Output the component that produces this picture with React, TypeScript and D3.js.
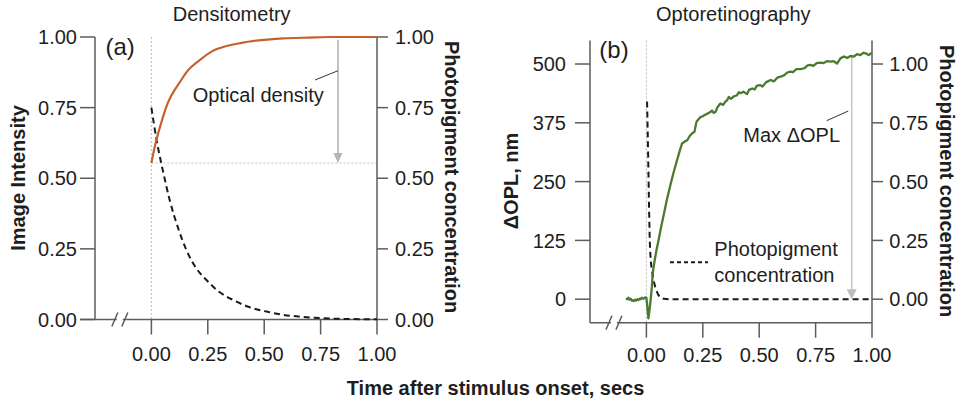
import React from 'react';
import * as d3 from 'd3';

// ---------- data ----------
const xTickValues = [0, 0.25, 0.5, 0.75, 1.0];
const xTickLabels = ['0.00', '0.25', '0.50', '0.75', '1.00'];
const unitTickValues = [0, 0.25, 0.5, 0.75, 1.0];
const unitTickLabels = ['0.00', '0.25', '0.50', '0.75', '1.00'];
const oplTickValues = [0, 125, 250, 375, 500];
const oplTickLabels = ['0', '125', '250', '375', '500'];

// Panel (a): optical density (image intensity) vs time
const opticalDensity: [number, number][] = [
  [0, 0.554], [0.011, 0.597], [0.022, 0.635], [0.045, 0.7], [0.066, 0.753], [0.09, 0.795],
  [0.126, 0.84], [0.16, 0.88], [0.214, 0.918], [0.27, 0.95], [0.333, 0.968], [0.4, 0.979],
  [0.436, 0.984], [0.5, 0.99], [0.583, 0.995], [0.7, 0.998], [0.8, 1.0], [0.9, 1.0], [1.0, 1.0],
];
// Panel (a): photopigment concentration
const pigmentA: [number, number][] = [
  [0, 0.75], [0.023, 0.635], [0.05, 0.53], [0.081, 0.423], [0.12, 0.32], [0.155, 0.246],
  [0.2, 0.18], [0.244, 0.14], [0.3, 0.098], [0.362, 0.069], [0.43, 0.045], [0.51, 0.028],
  [0.58, 0.017], [0.658, 0.01], [0.75, 0.005], [0.85, 0.002], [1.0, 0.001],
];
const odBaseline = 0.554;
const odArrowT = 0.827;
const odArrowTop = 0.99;

// Panel (b): ΔOPL (nm)
const orgOpl: [number, number][] = [
  [-0.09, 2], [-0.085, 0], [-0.08, 3], [-0.075, -1], [-0.07, 1], [-0.065, -3], [-0.06, -2],
  [-0.055, -4], [-0.05, -1], [-0.045, -3], [-0.04, 0], [-0.035, -2], [-0.03, 1], [-0.025, 0],
  [-0.02, 3], [-0.015, 1], [-0.01, 2], [-0.005, 4], [0, 3], [0.003, -10], [0.006, -28],
  [0.009, -41], [0.012, -30], [0.018, -5], [0.024, 25], [0.028, 55], [0.035, 78], [0.045, 105],
  [0.055, 128], [0.065, 153], [0.078, 182], [0.09, 210], [0.108, 246], [0.122, 272],
  [0.136, 296], [0.148, 316], [0.158, 331], [0.17, 335], [0.181, 338], [0.192, 347],
  [0.203, 353], [0.213, 356], [0.222, 377], [0.23, 382], [0.239, 387], [0.25, 389],
  [0.26, 392], [0.269, 394], [0.28, 397], [0.291, 401], [0.298, 396], [0.306, 398],
  [0.315, 408], [0.328, 416], [0.34, 413], [0.35, 420], [0.358, 423], [0.365, 430],
  [0.375, 426], [0.387, 431], [0.4, 433], [0.41, 440], [0.417, 438], [0.43, 441],
  [0.446, 436], [0.455, 445], [0.469, 448], [0.48, 446], [0.49, 454], [0.505, 455],
  [0.515, 452], [0.53, 461], [0.55, 466], [0.565, 463], [0.58, 471], [0.594, 473],
  [0.61, 476], [0.625, 482], [0.638, 484], [0.65, 483], [0.665, 489], [0.683, 489],
  [0.7, 491], [0.715, 497], [0.727, 498], [0.74, 496], [0.755, 502], [0.771, 503],
  [0.785, 502], [0.8, 506], [0.816, 505], [0.83, 506], [0.845, 501], [0.86, 512],
  [0.875, 516], [0.89, 513], [0.904, 517], [0.92, 516], [0.934, 521], [0.948, 519],
  [0.963, 524], [0.975, 522], [0.985, 519], [1.0, 524],
];
// Panel (b): photopigment concentration
const pigmentB: [number, number][] = [
  [0.003, 0.84], [0.008, 0.6], [0.012, 0.38], [0.015, 0.25], [0.02, 0.16], [0.025, 0.12],
  [0.032, 0.08], [0.04, 0.05], [0.047, 0.031], [0.055, 0.015], [0.065, 0.006], [0.077, 0.002],
  [0.1, 0], [0.3, 0], [0.6, 0], [1.0, 0],
];
const maxOplT = 0.91;
const maxOplTop = 520;

// ---------- layout ----------
const FONT = "'Liberation Sans', Arial, Helvetica, sans-serif";
const TEXT = '#1e1e1e';
const AXIS = '#5c5c5c';

const W = 957;
const H = 402;

export default function App() {
  // panel a scales
  const xa = d3.scaleLinear().domain([-0.25, 1]).range([95, 377]);
  const ya = d3.scaleLinear().domain([0, 1]).range([319.5, 37]);
  // panel b scales
  const xb = d3.scaleLinear().domain([-0.25, 1]).range([590, 872]);
  const yb = d3.scaleLinear().domain([-50, 550]).range([322.7, 40.5]);
  const yb2 = d3.scaleLinear().domain([-0.1, 1.1]).range([322.7, 40.5]);

  const lineA = d3.line<[number, number]>().x(d => xa(d[0])).y(d => ya(d[1])).curve(d3.curveMonotoneX);
  const lineB = d3.line<[number, number]>().x(d => xb(d[0])).y(d => yb(d[1])).curve(d3.curveLinear);
  const lineB2 = d3.line<[number, number]>().x(d => xb(d[0])).y(d => yb2(d[1])).curve(d3.curveMonotoneX);

  const tickFont = 20;

  const xAxis = (xs: d3.ScaleLinear<number, number>, yPos: number, x0: number, labelY: number, breakT: number) => (
    <g>
      <line x1={x0} x2={xs(1)} y1={yPos} y2={yPos} stroke={AXIS} strokeWidth={1.5} />
      {xTickValues.map((t, i) => (
        <g key={i}>
          <line x1={xs(t)} x2={xs(t)} y1={yPos} y2={yPos + 15} stroke={AXIS} strokeWidth={1.5} />
          <text x={xs(t)} y={labelY} textAnchor="middle" fontSize={tickFont} fill={TEXT}>{xTickLabels[i]}</text>
        </g>
      ))}
      {/* axis break */}
      <rect x={xs(breakT) - 3} y={yPos - 3} width={6} height={6} fill="#fff" />
      <line x1={xs(breakT) - 8} x2={xs(breakT) - 2} y1={yPos + 7} y2={yPos - 7} stroke={AXIS} strokeWidth={1.5} />
      <line x1={xs(breakT) + 2} x2={xs(breakT) + 8} y1={yPos + 7} y2={yPos - 7} stroke={AXIS} strokeWidth={1.5} />
    </g>
  );

  return (
    <svg width={W} height={H} style={{ position: 'absolute', left: 0, top: 0, background: '#fff' }} fontFamily={FONT}>
      <rect x={0} y={0} width={W} height={H} fill="#fff" />

      {/* ================= Panel (a) ================= */}
      <text x={231.7} y={20.7} textAnchor="middle" fontSize={20} fill={TEXT}>Densitometry</text>
      {/* reference dotted lines */}
      <line x1={xa(0)} x2={xa(0)} y1={ya(1)} y2={ya(0)} stroke="#c4c4c4" strokeWidth={1.2} strokeDasharray="2,2" />
      <line x1={xa(0)} x2={xa(1)} y1={ya(odBaseline)} y2={ya(odBaseline)} stroke="#c4c4c4" strokeWidth={1.2} strokeDasharray="2,2" />
      {/* left axis */}
      <line x1={xa(-0.25)} x2={xa(-0.25)} y1={ya(1)} y2={ya(0)} stroke={AXIS} strokeWidth={1.5} />
      {unitTickValues.map((v, i) => (
        <g key={i}>
          <line x1={80} x2={xa(-0.25)} y1={ya(v)} y2={ya(v)} stroke={AXIS} strokeWidth={1.5} />
          <text x={77} y={ya(v)} dy="0.36em" textAnchor="end" fontSize={tickFont} fill={TEXT}>{unitTickLabels[i]}</text>
        </g>
      ))}
      {/* right axis */}
      <line x1={xa(1)} x2={xa(1)} y1={ya(1)} y2={ya(0)} stroke={AXIS} strokeWidth={1.5} />
      {unitTickValues.map((v, i) => (
        <g key={i}>
          <line x1={xa(1)} x2={xa(1) + 11} y1={ya(v)} y2={ya(v)} stroke={AXIS} strokeWidth={1.5} />
          <text x={395} y={ya(v)} dy="0.36em" textAnchor="start" fontSize={tickFont} fill={TEXT}>{unitTickLabels[i]}</text>
        </g>
      ))}
      {xAxis(xa, ya(0), 80, 360.7, -0.14)}
      {/* curves */}
      <path d={lineA(pigmentA) ?? ''} fill="none" stroke="#1a1a1a" strokeWidth={2} strokeDasharray="6,4" />
      <path d={lineA(opticalDensity) ?? ''} fill="none" stroke="#c4622d" strokeWidth={2.2} />
      {/* arrow */}
      <line x1={xa(odArrowT)} x2={xa(odArrowT)} y1={ya(odArrowTop)} y2={ya(odBaseline) - 8} stroke="#b4b4b4" strokeWidth={1.6} />
      <path d={`M${xa(odArrowT) - 4.5},${ya(odBaseline) - 10} L${xa(odArrowT) + 4.5},${ya(odBaseline) - 10} L${xa(odArrowT)},${ya(odBaseline)} Z`} fill="#b4b4b4" />
      <line x1={338} y1={70.7} x2={315} y2={80} stroke="#333" strokeWidth={1} />
      <text x={192.7} y={101.7} fontSize={20} fill={TEXT}>Optical density</text>
      <text x={105.5} y={55} fontSize={24} fill={TEXT}>(a)</text>
      {/* axis titles */}
      <text transform="translate(25,178) rotate(-90)" textAnchor="middle" fontSize={20} fontWeight="bold" fill={TEXT}>Image Intensity</text>
      <text transform="translate(445,177) rotate(90)" textAnchor="middle" fontSize={20} fontWeight="bold" fill={TEXT}>Photopigment concentration</text>

      {/* ================= Panel (b) ================= */}
      <text x={733.3} y={20.7} textAnchor="middle" fontSize={20} fill={TEXT}>Optoretinography</text>
      <line x1={xb(0)} x2={xb(0)} y1={yb(550)} y2={yb(-50)} stroke="#c4c4c4" strokeWidth={1.2} strokeDasharray="2,2" />
      {/* left axis */}
      <line x1={xb(-0.25)} x2={xb(-0.25)} y1={yb(550)} y2={yb(-50)} stroke={AXIS} strokeWidth={1.5} />
      {oplTickValues.map((v, i) => (
        <g key={i}>
          <line x1={575} x2={xb(-0.25)} y1={yb(v)} y2={yb(v)} stroke={AXIS} strokeWidth={1.5} />
          <text x={566} y={yb(v)} dy="0.36em" textAnchor="end" fontSize={tickFont} fill={TEXT}>{oplTickLabels[i]}</text>
        </g>
      ))}
      {/* right axis */}
      <line x1={xb(1)} x2={xb(1)} y1={yb(550)} y2={yb(-50)} stroke={AXIS} strokeWidth={1.5} />
      {unitTickValues.map((v, i) => (
        <g key={i}>
          <line x1={xb(1)} x2={xb(1) + 11} y1={yb2(v)} y2={yb2(v)} stroke={AXIS} strokeWidth={1.5} />
          <text x={889.3} y={yb2(v)} dy="0.36em" textAnchor="start" fontSize={tickFont} fill={TEXT}>{unitTickLabels[i]}</text>
        </g>
      ))}
      {xAxis(xb, yb(-50), 590, 361.7, -0.144)}
      {/* max OPL line + arrow */}
      <line x1={xb(maxOplT)} x2={xb(maxOplT)} y1={yb(maxOplTop)} y2={yb(0) - 8} stroke="#c8c8c8" strokeWidth={1.6} />
      <path d={`M${xb(maxOplT) - 5},${yb(0) - 10} L${xb(maxOplT) + 5},${yb(0) - 10} L${xb(maxOplT)},${yb(0)} Z`} fill="#bdbdbd" />
      {/* curves */}
      <path d={lineB2(pigmentB) ?? ''} fill="none" stroke="#1a1a1a" strokeWidth={2} strokeDasharray="6,4" />
      <path d={lineB(orgOpl) ?? ''} fill="none" stroke="#4c7a2e" strokeWidth={2.3} strokeLinejoin="round" />
      {/* annotations */}
      <line x1={848.3} y1={111} x2={826.7} y2={120.7} stroke="#333" strokeWidth={1} />
      <text x={743.3} y={141.7} fontSize={20} fill={TEXT}>Max ΔOPL</text>
      <line x1={670} x2={708} y1={262.3} y2={262.3} stroke="#1a1a1a" strokeWidth={2} strokeDasharray="4,3" />
      <text x={714.3} y={256} fontSize={20} fill={TEXT}>Photopigment</text>
      <text x={714.3} y={281.7} fontSize={20} fill={TEXT}>concentration</text>
      <text x={599.3} y={58} fontSize={24} fill={TEXT}>(b)</text>
      {/* axis titles */}
      <text transform="translate(518,181) rotate(-90)" textAnchor="middle" fontSize={20} fontWeight="bold" fill={TEXT}>ΔOPL, nm</text>
      <text transform="translate(940,181) rotate(90)" textAnchor="middle" fontSize={20} fontWeight="bold" fill={TEXT}>Photopigment concentration</text>

      {/* shared x-axis title */}
      <text x={495.5} y={395} textAnchor="middle" fontSize={20} fontWeight="bold" fill={TEXT}>Time after stimulus onset, secs</text>
    </svg>
  );
}
